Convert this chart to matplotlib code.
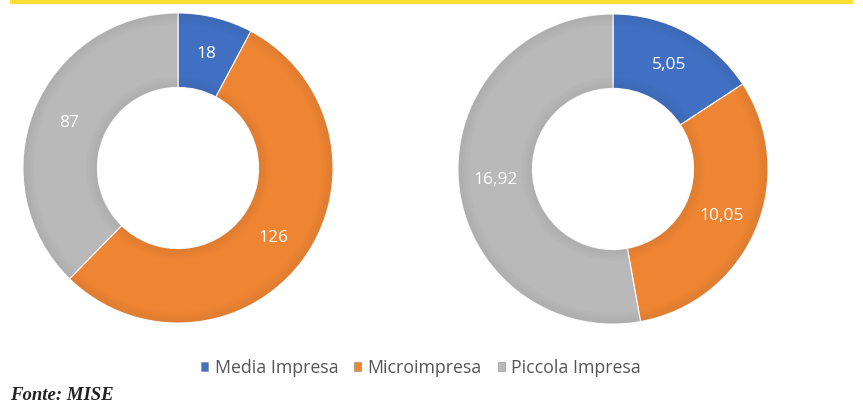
import numpy as np
import matplotlib.pyplot as plt
from matplotlib.patches import Patch, Wedge, Rectangle

categorie = ['Media Impresa', 'Microimpresa', 'Piccola Impresa']
valori_sx = [18, 126, 87]
etichette_sx = ['18', '126', '87']
valori_dx = [5.05, 10.05, 16.92]
etichette_dx = ['5,05', '10,05', '16,92']
colori = ['#4170C2', '#EE8533', '#B9B9B9']

W, H = 863, 405
fig = plt.figure(figsize=(W / 100, H / 100), dpi=100)
fig.patch.set_facecolor('white')

# yellow band on top
fig.add_artist(Rectangle((10 / W, 1 - 4 / H), 843 / W, 4 / H, transform=fig.transFigure,
                         facecolor='#FFDD33', edgecolor='none'))


def donut(cx, cy, r, valori, etichette):
    ax = fig.add_axes([(cx - r) / W, 1 - (cy + r) / H, 2 * r / W, 2 * r / H])
    larghezza = 0.48
    ax.pie(valori, colors=colori, startangle=90, counterclock=False, radius=1,
           wedgeprops=dict(width=larghezza, edgecolor='white', linewidth=0.8))
    # some bevel shading like the excel 3d look
    for k in range(6):
        a = 0.06 * (6 - k) / 6
        ax.add_patch(Wedge((0, 0), 1 - k * 0.012, 0, 360, width=0.012, facecolor='black',
                           alpha=a, edgecolor='none'))
        ax.add_patch(Wedge((0, 0), 1 - larghezza + (k + 1) * 0.012, 0, 360, width=0.012,
                           facecolor='black', alpha=a, edgecolor='none'))
    tot = sum(valori)
    ang = 90
    rr = 1 - larghezza / 2
    for v, t in zip(valori, etichette):
        mid = ang - v / tot * 360 / 2
        ang -= v / tot * 360
        ax.text(rr * np.cos(np.radians(mid)), rr * np.sin(np.radians(mid)), t,
                ha='center', va='center', color='white', fontsize=12.5, family='Open Sans')
    ax.set_xlim(-1, 1)
    ax.set_ylim(-1, 1)
    ax.set_aspect('equal')
    ax.axis('off')


donut(178, 168, 155, valori_sx, etichette_sx)
donut(613, 169, 155, valori_dx, etichette_dx)

handles = [Patch(facecolor=c, edgecolor='#888888', linewidth=0.4) for c in colori]
fig.legend(handles, categorie, loc='center', bbox_to_anchor=(421 / W, 1 - 368 / H),
           ncol=3, frameon=False, handlelength=0.4, handleheight=0.4, handletextpad=0.35,
           columnspacing=0.9, prop={'family': 'Open Sans', 'size': 12.8}, labelcolor='#555555')

fig.text(10 / W, 1 - 396 / H, 'Fonte: MISE', ha='left', va='center', fontsize=13.5,
         family='Liberation Serif', style='italic', weight='bold', color='#222222')

fig.savefig('out.png', dpi=100, facecolor='white')
